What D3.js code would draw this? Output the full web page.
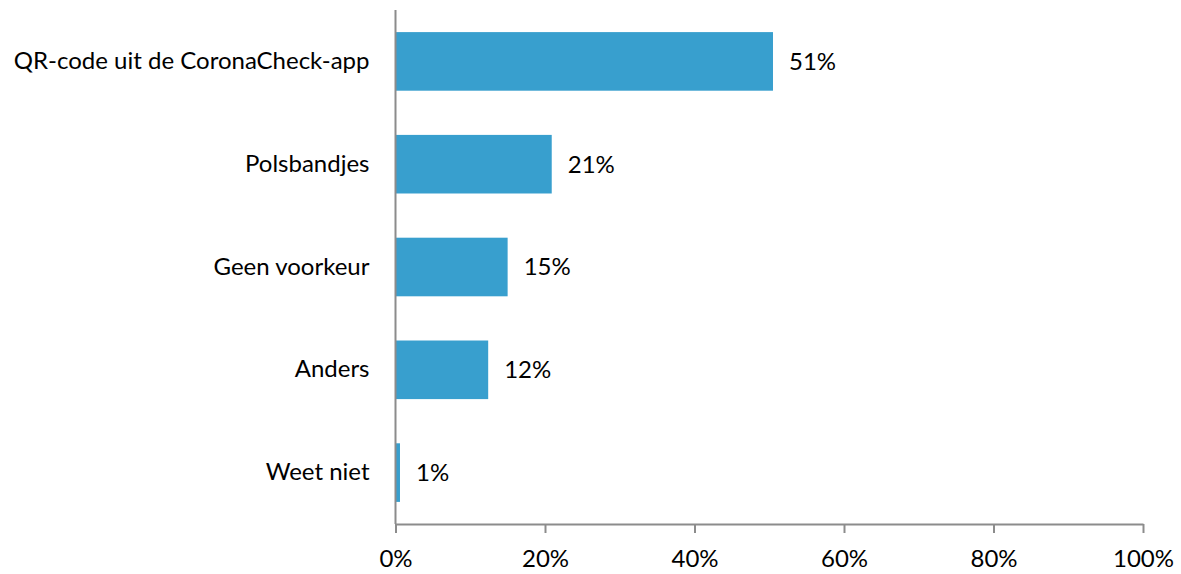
<!DOCTYPE html>
<html lang="nl">
<head>
    <meta charset="UTF-8">
    <title>Voorkeur toegangsbewijs</title>
    <script src="https://d3js.org/d3.v7.min.js" charset="utf-8"></script>
    <style>
        body { margin: 0; background: #fff; }
        svg { display: block; font-family: 'Lato', 'Open Sans', sans-serif; }
    </style>
</head>
<body>
    <div id="chart"></div>
    <script>
        // data
        var categories = ['QR-code uit de CoronaCheck-app', 'Polsbandjes', 'Geen voorkeur', 'Anders', 'Weet niet'];
        var values = [50.5, 20.9, 15.0, 12.4, 0.6];
        var valueLabels = ['51%', '21%', '15%', '12%', '1%'];
        var xTicks = [0, 20, 40, 60, 80, 100];

        var svgwidth = 1181;
        var svgheight = 574;

        var data = categories.map((c, i) => ({ category: c, value: values[i], label: valueLabels[i] }));

        var svg = d3.select('#chart')
                    .append('svg')
                    .attr('width', svgwidth)
                    .attr('height', svgheight);

        var x_scale = d3.scaleLinear()
                        .domain([0, 100])
                        .range([395.5, 1143]);

        var y_scale = d3.scaleBand()
                        .domain(categories)
                        .range([10, 524])
                        .paddingInner(0.43)
                        .paddingOuter(0.215);

        // bars
        svg.selectAll('rect.bar')
            .data(data)
            .enter()
            .append('rect')
            .attr('class', 'bar')
            .attr('x', x_scale(0))
            .attr('y', d => y_scale(d.category))
            .attr('width', d => x_scale(d.value) - x_scale(0))
            .attr('height', y_scale.bandwidth())
            .attr('fill', '#389fce');

        // value labels
        svg.selectAll('text.val')
            .data(data)
            .enter()
            .append('text')
            .attr('class', 'val')
            .attr('x', d => x_scale(d.value) + 16)
            .attr('y', d => y_scale(d.category) + y_scale.bandwidth() / 2)
            .attr('dy', '0.35em')
            .style('font-size', '24px')
            .style('fill', '#000')
            .text(d => d.label);

        // y-axis (no ticks)
        var yAxis = svg.append('g')
            .attr('transform', `translate(${x_scale(0)}, 0)`)
            .call(d3.axisLeft(y_scale).tickSize(0).tickPadding(26));

        yAxis.select('.domain')
            .attr('d', `M0,10V524`)
            .attr('stroke', '#8c8c8c')
            .attr('stroke-width', 2);

        yAxis.selectAll('.tick text')
            .style('font-size', '24px')
            .style('font-family', "'Lato', 'Open Sans', sans-serif")
            .style('fill', '#000');

        // x-axis
        var xAxis = svg.append('g')
            .attr('transform', 'translate(0, 524)')
            .call(d3.axisBottom(x_scale)
                .tickValues(xTicks)
                .tickFormat(d => d + '%')
                .tickSize(9)
                .tickSizeOuter(0)
                .tickPadding(17));

        xAxis.select('.domain')
            .attr('stroke', '#8c8c8c')
            .attr('stroke-width', 2);

        xAxis.selectAll('.tick line')
            .attr('stroke', '#8c8c8c')
            .attr('stroke-width', 2);

        xAxis.selectAll('.tick text')
            .style('font-size', '24px')
            .style('font-family', "'Lato', 'Open Sans', sans-serif")
            .style('fill', '#000');
    </script>
</body>
</html>
